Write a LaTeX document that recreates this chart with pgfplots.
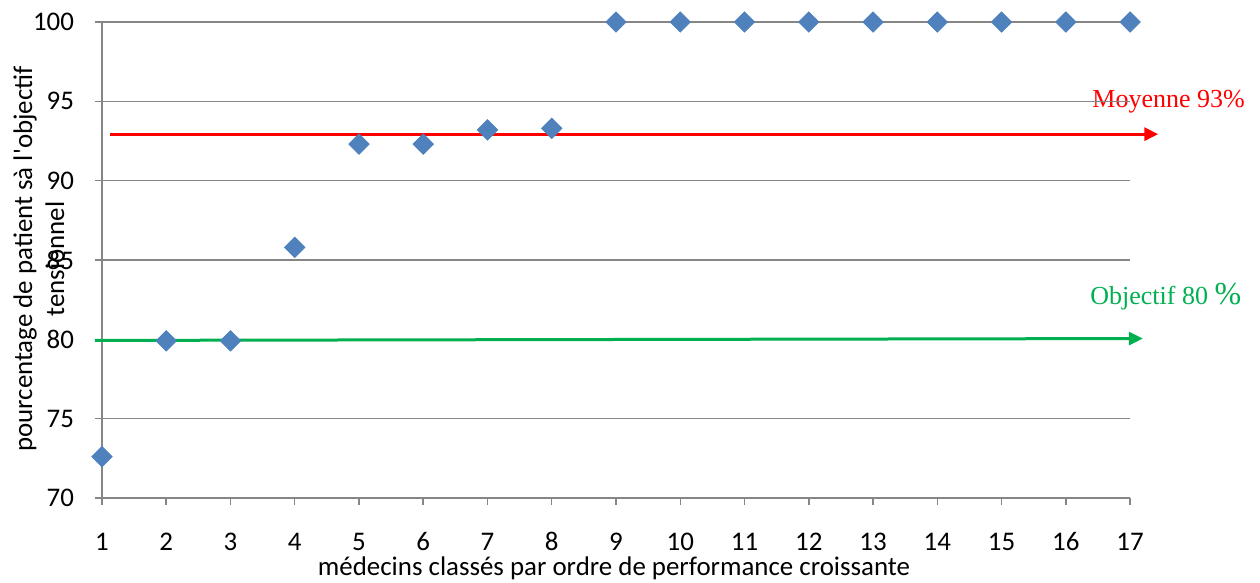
\documentclass[border=0pt]{standalone}
\usepackage{fontspec}
\setmainfont{Carlito}
\newfontfamily\timesf{Liberation Serif}
\usepackage{pgfplots}
\pgfplotsset{compat=1.18}
\usetikzlibrary{arrows.meta}
\definecolor{serie}{HTML}{4F81BD}
\definecolor{grille}{HTML}{868686}
\definecolor{moy}{HTML}{FF0000}
\definecolor{obj}{HTML}{00B050}
\newcommand{\lab}{\fontsize{13.45}{16}\selectfont}

\begin{document}
\begin{tikzpicture}
\useasboundingbox (-51pt,-42.5pt) rectangle (579pt,249pt);
% textes posés avant les axes : la grille passe par-dessus
\node[font=\timesf\fontsize{13}{15}\selectfont, text=moy, anchor=base west, inner sep=0pt]
  at (495pt,195pt) {Moyenne 93\%};
\node[font=\timesf\fontsize{13}{15}\selectfont, text=obj, anchor=base west, inner sep=0pt]
  at (494pt,96.5pt) {Objectif 80 {\fontsize{16}{18}\selectfont\%}};

\begin{axis}[
    at={(0pt,0pt)}, anchor=south west,
    scale only axis, width=514pt, height=238pt,
    xmin=1, xmax=17, ymin=70, ymax=100,
    xtick={1,...,17}, ytick={70,75,...,100},
    axis lines*=left,
    axis line style={grille, line width=0.75pt},
    ymajorgrids,
    grid style={grille, line width=0.75pt},
    tick align=outside,
    major tick length=3.5pt,
    tick style={grille, line width=0.75pt},
    tick label style={font=\lab},
    /pgf/number format/assume math mode=true,
    xticklabel style={text height=9pt, text depth=0pt, yshift=-10pt},
    yticklabel style={xshift=-7pt},
    clip=false,
]
% moyenne
\addplot[moy, line width=1.5pt, -{Triangle[length=7pt,width=6.5pt]}]
    coordinates {(1.12,92.93) (17.44,92.93)};
% pourcentage par médecin
\addplot[only marks, mark=square*, mark size=3.6pt, color=serie,
         mark options={rotate=45}] coordinates {
    (1,72.6) (2,79.9) (3,79.9) (4,85.8) (5,92.3) (6,92.3) (7,93.2) (8,93.3)
    (9,100) (10,100) (11,100) (12,100) (13,100) (14,100) (15,100) (16,100) (17,100)
};
% objectif
\addplot[obj, line width=1.5pt, -{Triangle[length=7pt,width=6.5pt]}]
    coordinates {(0.89,79.93) (17.2,80.05)};
\end{axis}

\node[font=\lab, anchor=base] at (256pt,-39pt)
  {médecins classés par ordre de performance croissante};
\node[font=\lab, rotate=90, align=center] at (-31.5pt,119.5pt)
  {pourcentage de patient sà l\textquotesingle objectif\\tensionnel};
\end{tikzpicture}
\end{document}
